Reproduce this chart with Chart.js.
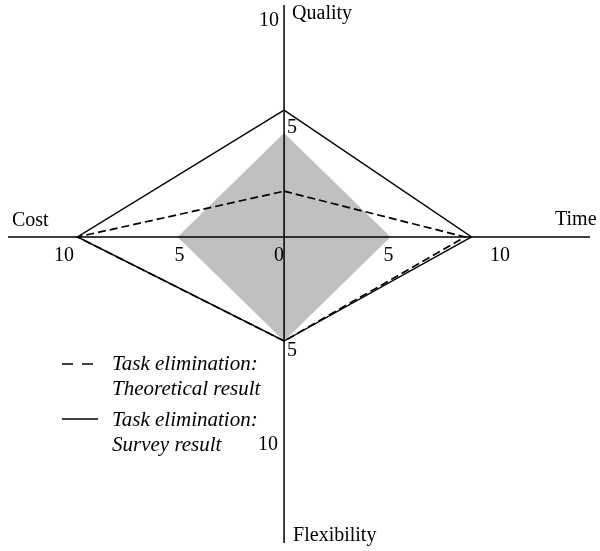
<!DOCTYPE html>
<html>
<head>
<meta charset="utf-8">
<script src="https://cdn.jsdelivr.net/npm/chart.js@4.4.1/dist/chart.umd.min.js"></script>
<style>
  html, body { margin: 0; padding: 0; background: #fff; }
  #wrap { width: 600px; height: 551px; }
</style>
</head>
<body>
<div id="wrap"><canvas id="quad-chart" width="600" height="551"></canvas></div>
<script>
// axes of the quadrangle, clockwise from the top
const categories = ['Quality', 'Time', 'Flexibility', 'Cost'];

// values, same order as categories
const referenceValues = [5, 5, 5, 5];          // grey square
const theoreticalValues = [2.2, 8.5, 5.0, 9.7]; // dashed
const surveyValues = [6.1, 8.8, 5.0, 9.7];      // solid

const seriesLabels = [
    ['Task elimination:', 'Theoretical result'],
    ['Task elimination:', 'Survey result'],
];

// tick labels per axis
const qualityTicks = [5, 10];
const timeTicks = [0, 5, 10];
const costTicks = [5, 10];
const flexibilityTicks = [5, 10];

const FONT = '"Liberation Serif", "Times New Roman", serif';

// each category points one way
const dirs = { Quality: [0, 1], Time: [1, 0], Flexibility: [0, -1], Cost: [-1, 0] };

function toPoints(values) {
    const pts = values.map((v, i) => {
        const d = dirs[categories[i]];
        return { x: d[0] * v, y: d[1] * v };
    });
    pts.push(pts[0]); // close the shape
    return pts;
}

// axes, tick numbers, axis names and legend
const quadPlugin = {
    id: 'quad',
    afterDatasetsDraw(chart) {
        const ctx = chart.ctx;
        const xs = chart.scales.x, ys = chart.scales.y;
        const x0 = xs.getPixelForValue(0), y0 = ys.getPixelForValue(0);

        ctx.save();
        ctx.strokeStyle = '#000';
        ctx.lineWidth = 1.5;
        ctx.beginPath();
        ctx.moveTo(xs.left, y0); ctx.lineTo(xs.right, y0);
        ctx.moveTo(x0, ys.top); ctx.lineTo(x0, ys.bottom);
        ctx.stroke();

        ctx.fillStyle = '#000';
        ctx.font = '20px ' + FONT;
        ctx.textBaseline = 'middle';
        ctx.textAlign = 'center';

        // horizontal ticks sit under the axis
        const hOff = { '0': -5, '5': -2, '10': 3 };
        timeTicks.forEach(v => {
            ctx.fillText(String(v), xs.getPixelForValue(v) + hOff[v], y0 + 19);
        });
        const cOff = { '5': 2, '10': -7 };
        costTicks.forEach(v => {
            ctx.fillText(String(v), xs.getPixelForValue(-v) + cOff[v], y0 + 19);
        });

        // vertical ticks, some left some right of the axis
        qualityTicks.forEach(v => {
            if (v === 10) ctx.fillText('10', x0 - 15, ys.getPixelForValue(v) - 8);
            else ctx.fillText(String(v), x0 + 8, ys.getPixelForValue(v) - 5);
        });
        flexibilityTicks.forEach(v => {
            if (v === 10) ctx.fillText('10', x0 - 16, ys.getPixelForValue(-v));
            else ctx.fillText(String(v), x0 + 8, ys.getPixelForValue(-v) + 10);
        });

        // axis names
        ctx.textAlign = 'left';
        ctx.fillText(categories[0], x0 + 8, 14);
        ctx.fillText(categories[1], 555, y0 - 17);
        ctx.fillText(categories[2], x0 + 9, 536);
        ctx.fillText(categories[3], 12, y0 - 16);

        // legend
        ctx.font = 'italic 21px ' + FONT;
        ctx.lineWidth = 1.4;
        ctx.beginPath();
        ctx.moveTo(62, 364); ctx.lineTo(73, 364);
        ctx.moveTo(82, 364); ctx.lineTo(93, 364);
        ctx.moveTo(62, 419); ctx.lineTo(98, 419);
        ctx.stroke();
        ctx.fillText(seriesLabels[0][0], 112, 364);
        ctx.fillText(seriesLabels[0][1], 112, 389);
        ctx.fillText(seriesLabels[1][0], 112, 420);
        ctx.fillText(seriesLabels[1][1], 112, 445);
        ctx.restore();
    }
};

document.addEventListener('DOMContentLoaded', function(){

    const ctx = document.getElementById('quad-chart').getContext('2d');
    new Chart(ctx, {
        type: 'scatter',
        data: {
            datasets: [{
                label: seriesLabels[0].join(' '),
                data: toPoints(theoreticalValues),
                showLine: true,
                fill: false,
                borderColor: '#000',
                borderWidth: 1.7,
                borderDash: [8, 4],
                pointRadius: 0,
                tension: 0,
                order: 1,
            }, {
                label: seriesLabels[1].join(' '),
                data: toPoints(surveyValues),
                showLine: true,
                fill: false,
                borderColor: '#000',
                borderWidth: 1.4,
                pointRadius: 0,
                tension: 0,
                order: 2,
            }, {
                label: 'reference',
                data: toPoints(referenceValues),
                showLine: true,
                fill: 'shape',
                backgroundColor: 'rgb(192,192,192)',
                borderWidth: 0,
                borderColor: 'rgba(0,0,0,0)',
                pointRadius: 0,
                tension: 0,
                order: 3,
            }]
        },
        options: {
            responsive: false,
            animation: false,
            devicePixelRatio: 1,
            layout: { padding: { left: 8, right: 10, top: 5, bottom: 8 } },
            plugins: { legend: { display: false }, tooltip: { enabled: false } },
            scales: {
                x: { type: 'linear', min: -12.96, max: 14.36, display: false },
                y: { type: 'linear', min: -14.71, max: 11.15, display: false }
            }
        },
        plugins: [quadPlugin]
    });

});
</script>
</body>
</html>
